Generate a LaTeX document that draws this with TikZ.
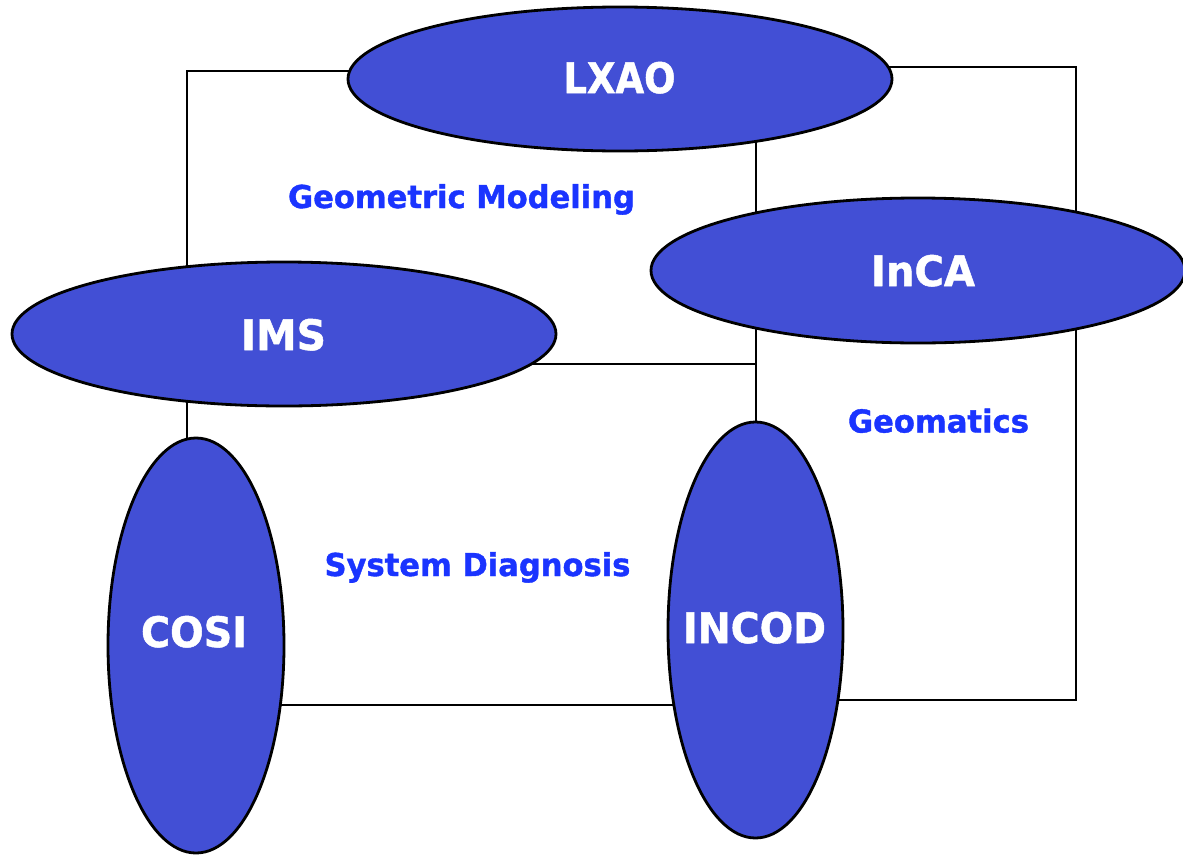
\documentclass[tikz,border=0pt]{standalone}
\usepackage{fontspec}
\usepackage{graphicx}
\setmainfont{DejaVu Sans}[BoldFeatures={FakeBold=1.2}]
\usetikzlibrary{shapes.geometric}
\definecolor{ellfill}{RGB}{66,79,213}
\definecolor{lblblue}{RGB}{26,52,255}
\tikzset{
  area/.style={draw=black, line width=2.4pt},
  blob/.style={ellipse, draw=black, line width=2.8pt, fill=ellfill, inner sep=0pt},
  wlabel/.style={anchor=base, inner sep=0pt, text=white, font=\fontsize{42}{50}\selectfont\bfseries},
  blabel/.style={anchor=base, inner sep=0pt, text=lblblue, font=\fontsize{31.5}{38}\selectfont\bfseries}
}
\begin{document}
\begin{tikzpicture}[x=1pt,y=-1pt]
\useasboundingbox (0,0) rectangle (1183,854);
% region corners
\coordinate (gmTL) at (187,71);
\coordinate (gmBR) at (756,364);
\coordinate (sdTL) at (187,364);
\coordinate (sdBR) at (756,705);
\coordinate (geTL) at (756,67);
\coordinate (geBR) at (1076,700);
\draw[area] (gmTL) rectangle (gmBR);
\draw[area] (sdTL) rectangle (sdBR);
\draw[area] (geTL) rectangle (geBR);
% ellipses
\node[blob, minimum width=544pt, minimum height=144pt] (lxao) at (620,79) {};
\node[blob, minimum width=534pt, minimum height=145pt] (inca) at (918,270.5) {};
\node[blob, minimum width=544pt, minimum height=144pt] (ims) at (284,334) {};
\node[blob, minimum width=176pt, minimum height=415pt] (cosi) at (196,645.5) {};
\node[blob, minimum width=175pt, minimum height=416pt] (incod) at (755.5,630) {};
% white labels
\node[wlabel] (lxaoT) at (619.5,93) {\scalebox{0.88}[1]{LXAO}};
\node[wlabel] (incaT) at (923,286) {\scalebox{0.955}[1]{InCA}};
\node[wlabel] (imsT) at (283.5,350) {\scalebox{0.97}[1]{IMS}};
\node[wlabel] (cosiT) at (194,647) {\scalebox{0.943}[1]{COSI}};
\node[wlabel] (incodT) at (754.5,643) {\scalebox{0.94}[1]{INCOD}};
% blue labels
\node[blabel] (gmT) at (461.5,208) {\scalebox{0.97}[1]{Geometric Modeling}};
\node[blabel] (sdT) at (477.5,576) {\scalebox{0.97}[1]{System Diagnosis}};
\node[blabel] (geT) at (938.5,432.5) {\scalebox{0.972}[1]{Geomatics}};
\end{tikzpicture}
\end{document}
